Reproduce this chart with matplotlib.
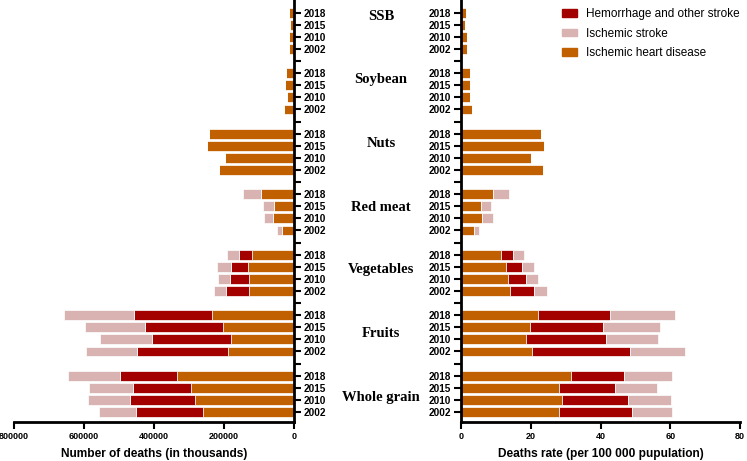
import matplotlib.pyplot as plt
from matplotlib.patches import Patch

years = ['2002', '2010', '2015', '2018']
foods = ['Whole grain', 'Fruits', 'Vegetables', 'Red meat', 'Nuts', 'Soybean', 'SSB']

# number of deaths, each row is a food, columns are 2002, 2010, 2015, 2018
deaths_ihd = [
    [260000, 282000, 293400, 334300],
    [187700, 180000, 203700, 234300],
    [129500, 127600, 132300, 120000],
    [34300, 60000, 58000, 94300],
    [214000, 196000, 247700, 243000],
    [29500, 21000, 25000, 23000],
    [13000, 13000, 10500, 14000],
]
deaths_hem = [
    [192300, 187500, 165600, 163000],
    [261800, 226500, 221000, 222000],
    [64000, 55000, 48700, 37000],
    [0, 0, 0, 0],
    [0, 0, 0, 0],
    [0, 0, 0, 0],
    [0, 0, 0, 0],
]
deaths_isc = [
    [105700, 120000, 126700, 149500],
    [144000, 148000, 172000, 200000],
    [34300, 34300, 38000, 33500],
    [13300, 26700, 30600, 50700],
    [0, 0, 0, 0],
    [0, 0, 0, 0],
    [0, 0, 0, 0],
]

# death rate per 100 000
rate_ihd = [
    [28.2, 29.0, 28.2, 31.5],
    [20.5, 18.6, 19.8, 22.0],
    [14.0, 13.4, 12.8, 11.4],
    [3.7, 6.1, 5.8, 9.1],
    [23.4, 20.2, 23.9, 22.9],
    [3.2, 2.5, 2.7, 2.5],
    [1.7, 1.7, 1.15, 1.5],
]
rate_hem = [
    [20.7, 19.0, 15.9, 15.2],
    [28.1, 23.1, 21.0, 20.8],
    [7.0, 5.3, 4.7, 3.5],
    [0, 0, 0, 0],
    [0, 0, 0, 0],
    [0, 0, 0, 0],
    [0, 0, 0, 0],
]
rate_isc = [
    [11.6, 12.1, 12.0, 13.8],
    [15.6, 14.8, 16.4, 18.6],
    [3.8, 3.5, 3.5, 3.05],
    [1.6, 3.0, 2.7, 4.7],
    [0, 0, 0, 0],
    [0, 0, 0, 0],
    [0, 0, 0, 0],
]

c_ihd = '#C06000'
c_hem = '#A30000'
c_isc = '#D9B2B2'

W, H = 747, 461
fig = plt.figure(figsize=(W / 100, H / 100), dpi=100)
axL = fig.add_axes([14 / W, 39 / H, 280 / W, 422 / H])
axR = fig.add_axes([461 / W, 39 / H, 279 / W, 422 / H])

# each food takes 5 slots: 4 years and one empty gap slot
pos = []
ticks = []
ticklabels = []
for g in range(len(foods)):
    for j in range(4):
        pos.append(g * 5 + j)
        ticks.append(g * 5 + j)
        ticklabels.append(years[j])
    if g < len(foods) - 1:
        ticks.append(g * 5 + 4)
        ticklabels.append('')

def flat(arr):
    return [v for row in arr for v in row]

def draw(ax, ihd, hem, isc):
    ihd = flat(ihd)
    hem = flat(hem)
    isc = flat(isc)
    kw = dict(height=0.82, edgecolor='white', linewidth=0.5)
    ax.barh(pos, ihd, color=c_ihd, **kw)
    ax.barh(pos, hem, left=ihd, color=c_hem, **kw)
    ax.barh(pos, isc, left=[a + b for a, b in zip(ihd, hem)], color=c_isc, **kw)
    ax.set_ylim(-0.83, 34.05)
    ax.set_yticks(ticks)
    ax.set_yticklabels(ticklabels, fontsize=7.2, fontweight='bold', family='Liberation Sans')
    ax.tick_params(axis='both', length=5, width=1.5, direction='out', pad=2)
    for s in ax.spines.values():
        s.set_linewidth(2)
    ax.spines['top'].set_visible(False)

draw(axL, deaths_ihd, deaths_hem, deaths_isc)
axL.set_xlim(800000, 0)
axL.set_xticks([800000, 600000, 400000, 200000, 0])
axL.set_xticklabels(['800000', '600000', '400000', '200000', '0'], fontsize=6.5, fontweight='bold', family='Liberation Sans')
axL.spines['left'].set_visible(False)
axL.yaxis.tick_right()
axL.set_xlabel('Number of deaths (in thousands)', fontsize=8.6, fontweight='bold', family='Liberation Sans', labelpad=5)

draw(axR, rate_ihd, rate_hem, rate_isc)
axR.set_xlim(0, 80)
axR.set_xticks([0, 20, 40, 60, 80])
axR.set_xticklabels(['0', '20', '40', '60', '80'], fontsize=6.5, fontweight='bold', family='Liberation Sans')
axR.spines['right'].set_visible(False)
axR.set_xlabel('Deaths rate (per 100 000 pupulation)', fontsize=8.6, fontweight='bold', family='Liberation Sans', labelpad=5)

# food names between the two panels
name_y = [397, 333, 269, 207, 143, 80, 16]
for name, y in zip(foods, name_y):
    fig.text(381 / W, 1 - y / H, name, ha='center', va='center', fontsize=10.5,
             fontweight='bold', family='Liberation Serif')

handles = [Patch(color=c_hem), Patch(color=c_isc), Patch(color=c_ihd)]
fig.legend(handles, ['Hemorrhage and other stroke', 'Ischemic stroke', 'Ischemic heart disease'],
           loc='upper left', bbox_to_anchor=(562 / W, 1 - 8 / H), frameon=False,
           prop={'family': 'Liberation Sans', 'size': 8.5}, handlelength=1.3, handleheight=0.6,
           handletextpad=0.75, labelspacing=0.65, borderpad=0, borderaxespad=0)

fig.savefig('out.png', dpi=100)
